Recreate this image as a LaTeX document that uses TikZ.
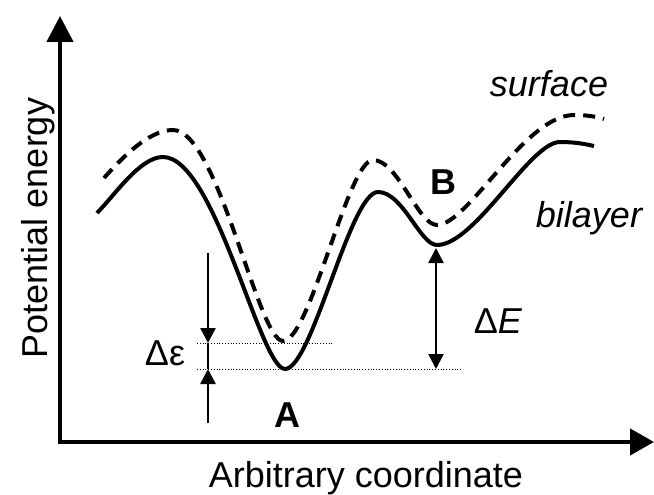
\documentclass[tikz,border=0pt]{standalone}
\usepackage{fontspec}
\setmainfont{Liberation Sans}
\usetikzlibrary{arrows.meta}
\tikzset{
  axis/.style={line width=4.5pt,{Triangle[length=26pt,width=26pt]}-{Triangle[length=24pt,width=26pt]}},
  gap/.style={line width=2.5pt,-{Triangle[length=15pt,width=15pt]}},
  level/.style={line width=1pt,dash pattern=on 1pt off 1.8pt},
  curve/.style={line width=4pt},
}
\begin{document}
\begin{tikzpicture}[x=1pt,y=-1pt,font=\fontsize{36}{43}\selectfont]
  \useasboundingbox (0,0) rectangle (654,495);
  % axes
  \coordinate (top) at (60,16);
  \coordinate (origin) at (60,442);
  \coordinate (right) at (654,442);
  \draw[axis] (top) |- (right);
  \node[rotate=90,anchor=base] (ylab) at (47,228) {Potential energy};
  \node[anchor=base] (xlab) at (366,487) {Arbitrary coordinate};
  % energy profiles
  \draw[curve] (97,213) .. controls (115,195) and (140,157) .. (163,157)
    .. controls (215,157) and (260,369) .. (285,369)
    .. controls (312,369) and (350,192) .. (378,192)
    .. controls (403,192) and (420,245) .. (437,245)
    .. controls (475,245) and (530,142) .. (560,142)
    .. controls (575,142) and (585,144) .. (594,146);
  \draw[curve,dash pattern=on 12pt off 8pt] (104,178) .. controls (120,160) and (148,130) .. (173,130)
    .. controls (218,130) and (258,341) .. (283,341)
    .. controls (310,341) and (348,160) .. (373,160)
    .. controls (398,160) and (418,225) .. (437,225)
    .. controls (468,225) and (525,115) .. (574,115)
    .. controls (588,115) and (598,117) .. (604,119);
  \node[anchor=base] (surf) at (549,97) {\itshape surface};
  \node[anchor=base] (bil) at (589,227) {\itshape bilayer};
  \node[anchor=base,font=\fontsize{36}{43}\selectfont\bfseries] (A) at (287,427) {A};
  \node[anchor=base,font=\fontsize{36}{43}\selectfont\bfseries] (B) at (443,194) {B};
  % levels and gaps
  \coordinate (epsA) at (197,343);
  \coordinate (epsB) at (334,343);
  \coordinate (minA) at (197,369);
  \coordinate (minB) at (463,369);
  \draw[level] (epsA) -- (epsB);
  \draw[level] (minA) -- (minB);
  \coordinate (e1) at (208,253);
  \coordinate (e2) at (208,343);
  \coordinate (e3) at (208,369);
  \coordinate (e4) at (208,423);
  \draw[gap] (e1) -- (e2);
  \draw[gap] (e4) -- (e3);
  \draw[line width=1.5pt] (e2) -- (e3);
  \node[anchor=base] (deps) at (165,365) {Δε};
  \coordinate (bB) at (436,248);
  \coordinate (bA) at (436,369);
  \draw[gap,{Triangle[length=15pt,width=15pt]}-{Triangle[length=15pt,width=15pt]}] (bB) -- (bA);
  \node[anchor=base] (dE) at (498,333) {Δ\textit{E}};
\end{tikzpicture}
\end{document}
